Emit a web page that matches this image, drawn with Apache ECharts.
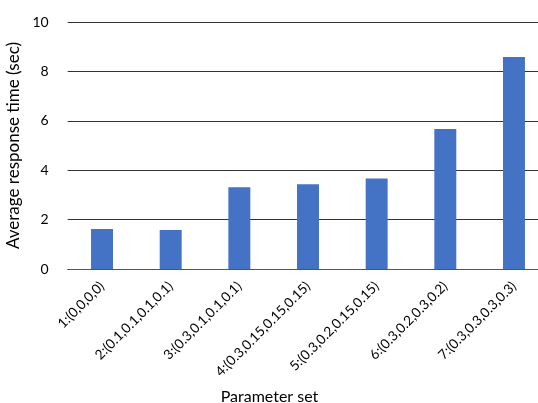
<!DOCTYPE html>
<html>
<head>
<meta charset="utf-8">
<script src="https://cdn.jsdelivr.net/npm/echarts@6/dist/echarts.min.js"></script>
<style>
  html, body { margin: 0; padding: 0; background: #fff; }
  #chart { width: 538px; height: 403px; }
</style>
</head>
<body>
<div id="chart"></div>
<script>
// Parameter sets and their average response times (seconds)
const categories = [
  '1:(0,0,0,0)',
  '2:(0.1,0.1,0.1,0.1)',
  '3:(0.3,0.1,0.1,0.1)',
  '4:(0.3,0.15,0.15,0.15)',
  '5:(0.3,0.2,0.15,0.15)',
  '6:(0.3,0.2,0.3,0.2)',
  '7:(0.3,0.3,0.3,0.3)'
];
const responseTimes = [1.62, 1.58, 3.31, 3.43, 3.66, 5.67, 8.58];
const yTicks = { min: 0, max: 10, interval: 2 };

const FONT = 'Lato';
const chart = echarts.init(document.getElementById('chart'), null, { renderer: 'canvas' });
chart.setOption({
  animation: false,
  grid: { left: 67.7, top: 22, width: 480.6, height: 247, containLabel: false, outerBoundsMode: 'none' },
  xAxis: {
    type: 'category',
    data: categories,
    name: 'Parameter set',
    nameLocation: 'middle',
    nameGap: 120,
    // right padding pulls the centred title towards the middle of the page
    nameTextStyle: { fontFamily: FONT, fontSize: 16, color: '#000', padding: [0, 77, 0, 0] },
    axisLine: { lineStyle: { color: '#555', width: 1 } },
    axisTick: { show: false },
    axisLabel: {
      rotate: 45,
      interval: 0,
      margin: 15,
      fontFamily: FONT,
      fontSize: 13.6,
      color: '#000'
    }
  },
  yAxis: {
    type: 'value',
    min: yTicks.min,
    max: yTicks.max,
    interval: yTicks.interval,
    name: 'Average response time (sec)',
    nameLocation: 'middle',
    nameGap: 39,
    nameTextStyle: { fontFamily: FONT, fontSize: 17, color: '#000' },
    axisLine: { show: false },
    axisTick: { show: false },
    axisLabel: { margin: 19, fontFamily: FONT, fontSize: 14, color: '#000' },
    splitLine: { lineStyle: { color: '#333', width: 1 } }
  },
  series: [{
    type: 'bar',
    data: responseTimes,
    barWidth: '32%',
    itemStyle: { color: '#4472C4' }
  }]
});
</script>
</body>
</html>
